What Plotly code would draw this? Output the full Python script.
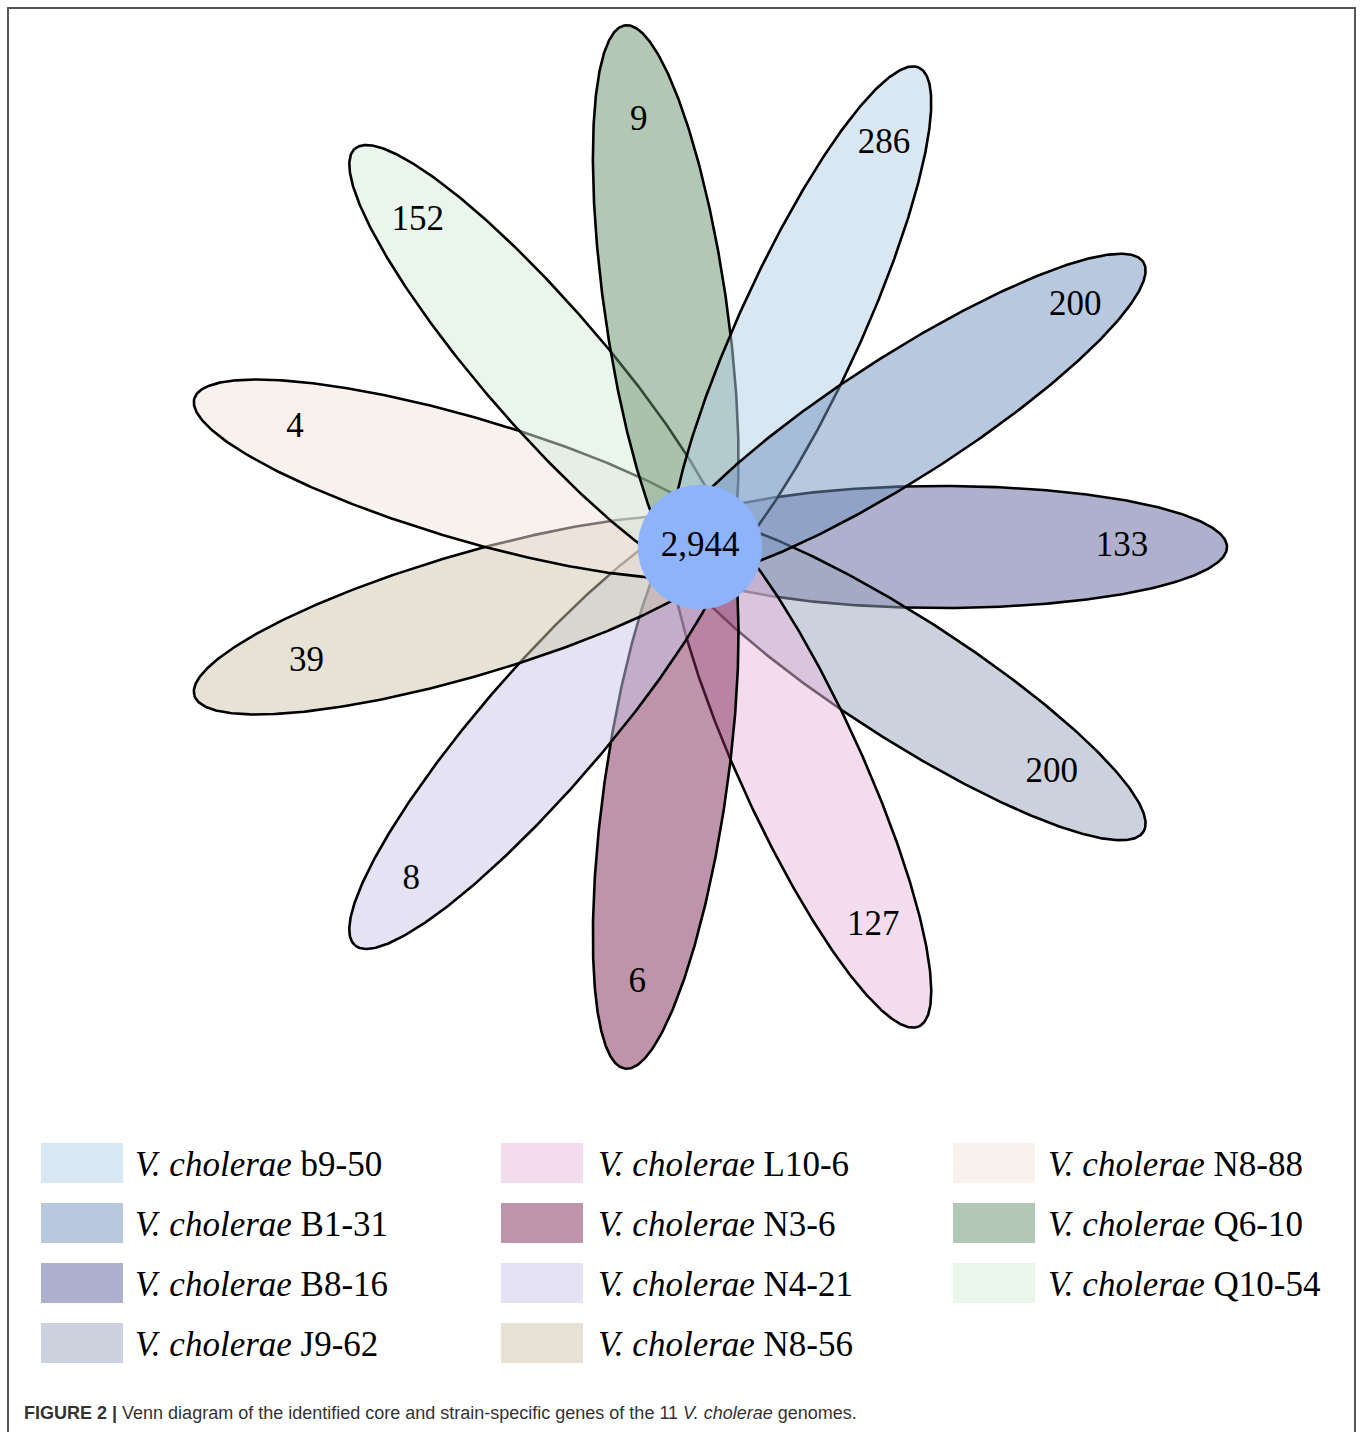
import numpy as np
import plotly.graph_objects as go

# Strain-specific gene counts, one petal per genome, listed counter-clockwise
# starting from the petal that points to the right.
strains = ["B8-16", "B1-31", "b9-50", "Q6-10", "Q10-54", "N8-88",
           "N8-56", "N4-21", "N3-6", "L10-6", "J9-62"]
unique_genes = [133, 200, 286, 9, 152, 4, 39, 8, 6, 127, 200]
core_genes = 2944
species = "V. cholerae"

# Legend layout: three columns of strain names
legend_columns = [["b9-50", "B1-31", "B8-16", "J9-62"],
                  ["L10-6", "N3-6", "N4-21", "N8-56"],
                  ["N8-88", "Q6-10", "Q10-54"]]

caption_title = "FIGURE 2 |"
caption_text = ("Venn diagram of the identified core and strain-specific genes "
                "of the 11 <i>V. cholerae</i> genomes.")

# ---- styling ---------------------------------------------------------------
W, H = 1360, 1432
FILL_ALPHA = 0.5
petal_rgb = {
    "b9-50": (179, 207, 231),
    "B1-31": (113, 147, 191),
    "B8-16": (95, 97, 155),
    "J9-62": (151, 163, 187),
    "L10-6": (231, 185, 221),
    "N3-6": (127, 41, 87),
    "N4-21": (201, 197, 231),
    "N8-56": (205, 199, 173),
    "N8-88": (243, 227, 221),
    "Q6-10": (101, 143, 105),
    "Q10-54": (213, 235, 217),
}
center_color = "#8db3fb"
serif = "Liberation Serif, Times New Roman, serif"
sans = "Liberation Sans, Arial, sans-serif"

# flower geometry (pixel space)
cx, cy = 700.0, 547.0
petal_a, petal_b, petal_offset = 286.0, 61.0, 241.0
core_radius = 62.0
# distance of each count label from the flower centre (same order as strains)
label_dist = [422, 446, 443, 430, 431, 422, 410, 441, 441, 417, 418]


def rgba(c, a):
    return f"rgba({c[0]},{c[1]},{c[2]},{a})"


def petal_outline(theta, n=480):
    t = np.linspace(0, 2 * np.pi, n)
    ux, uy = np.cos(theta), -np.sin(theta)
    vx, vy = np.sin(theta), np.cos(theta)
    along = petal_offset + petal_a * np.cos(t)
    across = petal_b * np.sin(t)
    return cx + along * ux + across * vx, cy + along * uy + across * vy


fig = go.Figure()

n = len(strains)
angles = [2 * np.pi * k / n for k in range(n)]

# petals are layered clockwise, starting from the right-pointing one
draw_order = [0] + list(range(n - 1, 0, -1))
for k in draw_order:
    x, y = petal_outline(angles[k])
    fig.add_trace(go.Scatter(
        x=x, y=y, mode="lines", fill="toself",
        fillcolor=rgba(petal_rgb[strains[k]], FILL_ALPHA),
        line=dict(color="black", width=2.6),
        hoverinfo="skip", showlegend=False, name=strains[k]))

# core circle
t = np.linspace(0, 2 * np.pi, 200)
fig.add_trace(go.Scatter(
    x=cx + core_radius * np.cos(t), y=cy + core_radius * np.sin(t),
    mode="lines", fill="toself", fillcolor=center_color,
    line=dict(color=center_color, width=0.5),
    hoverinfo="skip", showlegend=False))

# counts
lx = [cx + r * np.cos(a) for r, a in zip(label_dist, angles)]
ly = [cy - r * np.sin(a) for r, a in zip(label_dist, angles)]
fig.add_trace(go.Scatter(
    x=lx + [cx], y=ly + [cy], mode="text",
    text=[str(v) for v in unique_genes] + [f"{core_genes:,}"],
    textposition="middle center",
    textfont=dict(family=serif, size=35, color="black"),
    hoverinfo="skip", showlegend=False))

shapes = []
annotations = []

# legend grid
col_x = [41, 501, 953]
text_dx = [92, 95, 93]
row_y0, row_step = 1143, 60
sw_w, sw_h = 82, 40
for ci, col in enumerate(legend_columns):
    for ri, name in enumerate(col):
        y0 = row_y0 + ri * row_step
        shapes.append(dict(
            type="rect", xref="x", yref="y",
            x0=col_x[ci], x1=col_x[ci] + sw_w, y0=y0, y1=y0 + sw_h,
            fillcolor=rgba(petal_rgb[name], FILL_ALPHA),
            line=dict(width=0), layer="above"))
        annotations.append(dict(
            x=col_x[ci] + text_dx[ci], y=y0 + sw_h / 2 + 1,
            xref="x", yref="y", xanchor="left", yanchor="middle",
            text=f"<i>{species}</i> {name}", showarrow=False,
            font=dict(family=serif, size=35, color="black")))

# frame around the figure panel
shapes.append(dict(type="rect", xref="x", yref="y",
                   x0=8, x1=1355, y0=8, y1=H + 10,
                   line=dict(color="#555555", width=2), layer="above"))

annotations.append(dict(
    x=22, y=1413, xref="x", yref="y", xanchor="left", yanchor="middle",
    text=f"<b>{caption_title}</b> {caption_text}", showarrow=False,
    font=dict(family=sans, size=18, color="#333333")))

fig.update_layout(
    width=W, height=H, autosize=False,
    margin=dict(l=0, r=0, t=0, b=0),
    paper_bgcolor="white", plot_bgcolor="white",
    xaxis=dict(range=[0, W], visible=False, fixedrange=True),
    yaxis=dict(range=[H, 0], visible=False, fixedrange=True),
    shapes=shapes, annotations=annotations,
    showlegend=False)

fig.write_html("out.html", config={"displayModeBar": False})
